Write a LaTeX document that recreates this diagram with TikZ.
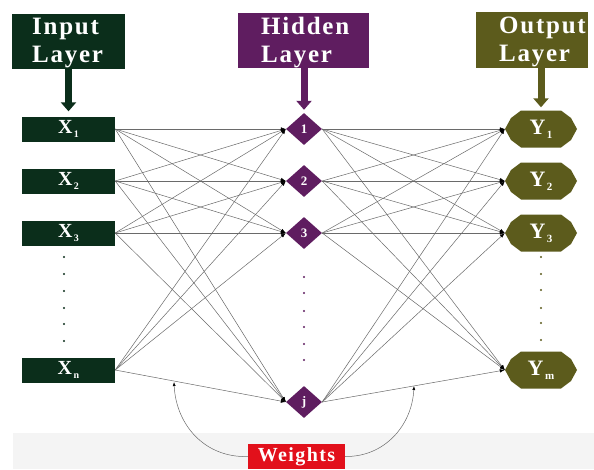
\documentclass[tikz,border=0pt]{standalone}
\usepackage{fontspec}
\setmainfont{Liberation Serif}
\newfontfamily\spfont[LetterSpace=7]{Liberation Serif}
\usetikzlibrary{arrows.meta,shapes.geometric}
\definecolor{ingreen}{HTML}{0B2E1B}
\definecolor{hidpurple}{HTML}{5F1D60}
\definecolor{outolive}{HTML}{5C5B1C}
\definecolor{wred}{HTML}{E2101B}
\definecolor{band}{HTML}{F4F4F4}
\definecolor{wirecol}{HTML}{6A6A6A}
\newcommand\mkX[1]{{\bfseries\fontsize{20}{20}\selectfont X}\kern1.5pt\raisebox{-4pt}{\bfseries\fontsize{10}{10}\selectfont #1}}
\newcommand\mkY[1]{{\bfseries\fontsize{22}{22}\selectfont Y}\kern1.5pt\raisebox{-4pt}{\bfseries\fontsize{11}{11}\selectfont #1}}
\begin{document}
\begin{tikzpicture}[x=1pt,y=-1pt,
  hdrbox/.style={rectangle,inner sep=0},
  hdrtext/.style={anchor=north west,inner sep=0,align=left,text=white,font=\spfont\bfseries\fontsize{25}{28}\selectfont},
  hdrarrow/.style={line width=7,-{Triangle[width=15,length=9]}},
  xbox/.style={rectangle,fill=ingreen,minimum width=93,minimum height=25,inner sep=0,text=white},
  hnode/.style={diamond,fill=hidpurple,minimum width=36,minimum height=32,aspect=1.1,inner sep=0,text=white,font=\bfseries\fontsize{13}{13}\selectfont},
  ynode/.style={ellipse,minimum width=72,minimum height=37,inner sep=0,text=white},
  wire/.style={draw=wirecol,line width=0.5,-{Latex[black,length=5,width=3.5]}},
  wtarrow/.style={draw=wirecol,line width=0.5,-{Latex[black,length=4,width=3]}}
]
\useasboundingbox (0,0) rectangle (594,469);
\fill[white] (0,0) rectangle (594,469);
\fill[band] (13,433) rectangle (594,469);

% headers
\node[hdrbox,fill=ingreen,minimum width=113,minimum height=55] (inhdr) at (68.5,41.5) {};
\node[hdrtext] (intxt) at (32,18) {Input\\Layer};
\node[hdrbox,fill=hidpurple,minimum width=131,minimum height=55] (hidhdr) at (303.5,40.5) {};
\node[hdrtext] (hidtxt) at (261,17) {Hidden\\Layer};
\node[hdrbox,fill=outolive,minimum width=112,minimum height=56] (outhdr) at (532,40) {};
\node[hdrtext] (outtxt) at (499,17) {Output\\Layer};

% input nodes
\node[xbox] (x1) at (68.5,129) {\mkX{1}};
\node[xbox] (x2) at (68.5,181) {\mkX{2}};
\node[xbox] (x3) at (68.5,233) {\mkX{3}};
\node[xbox] (xn) at (68.5,370) {\mkX{n}};

% hidden nodes
\node[hnode] (h1) at (304,129) {1};
\node[hnode] (h2) at (304,181) {2};
\node[hnode] (h3) at (304,233) {3};
\node[hnode] (hj) at (304,402) {j};

% output nodes
\foreach \n/\yy/\s in {y1/129/1,y2/181/2,y3/233/3,ym/370/m}{
  \fill[outolive] (541,\yy) ++(-36,0) -- ++(6,-11) -- ++(10,-7.5) -- ++(40,0) -- ++(10,7.5) -- ++(6,11)
     -- ++(-6,11) -- ++(-10,7.5) -- ++(-40,0) -- ++(-10,-7.5) -- cycle;
  \node[ynode] (\n) at (541,\yy) {\mkY{\s}};
}

% dots
\foreach \yy in {257,274,291,308,324,341} \fill[ingreen] (64,\yy) circle (1.1);
\foreach \yy in {277,293,311,327,344,360} \fill[hidpurple] (304,\yy) circle (1.1);
\foreach \yy in {257,274,290,308,323,340} \fill[outolive] (541,\yy) circle (1.1);

% header arrows
\draw[hdrarrow,draw=ingreen,shorten >=5] (inhdr.south -| x1.north) -- (x1.north);
\draw[hdrarrow,draw=hidpurple,shorten >=3] (hidhdr.south -| h1.north) -- (h1.north);
\draw[hdrarrow,draw=outolive,shorten >=3] (outhdr.south -| y1.north) -- (y1.north);

% connections
\foreach \a in {x1,x2,x3,xn}
  \foreach \b in {h1,h2,h3,hj}
    \draw[wire] (\a.east) -- (\b.west);
\foreach \a in {h1,h2,h3,hj}
  \foreach \b in {y1,y2,y3,ym}
    \draw[wire] (\a.east) -- (\b.west);

% weights
\node[rectangle,fill=wred,minimum width=97,minimum height=25,inner sep=0,text=white,
      font=\spfont\bfseries\fontsize{20}{20}\selectfont] (wts) at (296.5,456.5) {Weights};
\coordinate (wl) at (174,382);
\coordinate (wr) at (414,386);
\draw[wtarrow] (wts.west) .. controls (205,458) and (176,425) .. (wl);
\draw[wtarrow] (wts.east) .. controls (385,457) and (412,425) .. (wr);
\end{tikzpicture}
\end{document}
